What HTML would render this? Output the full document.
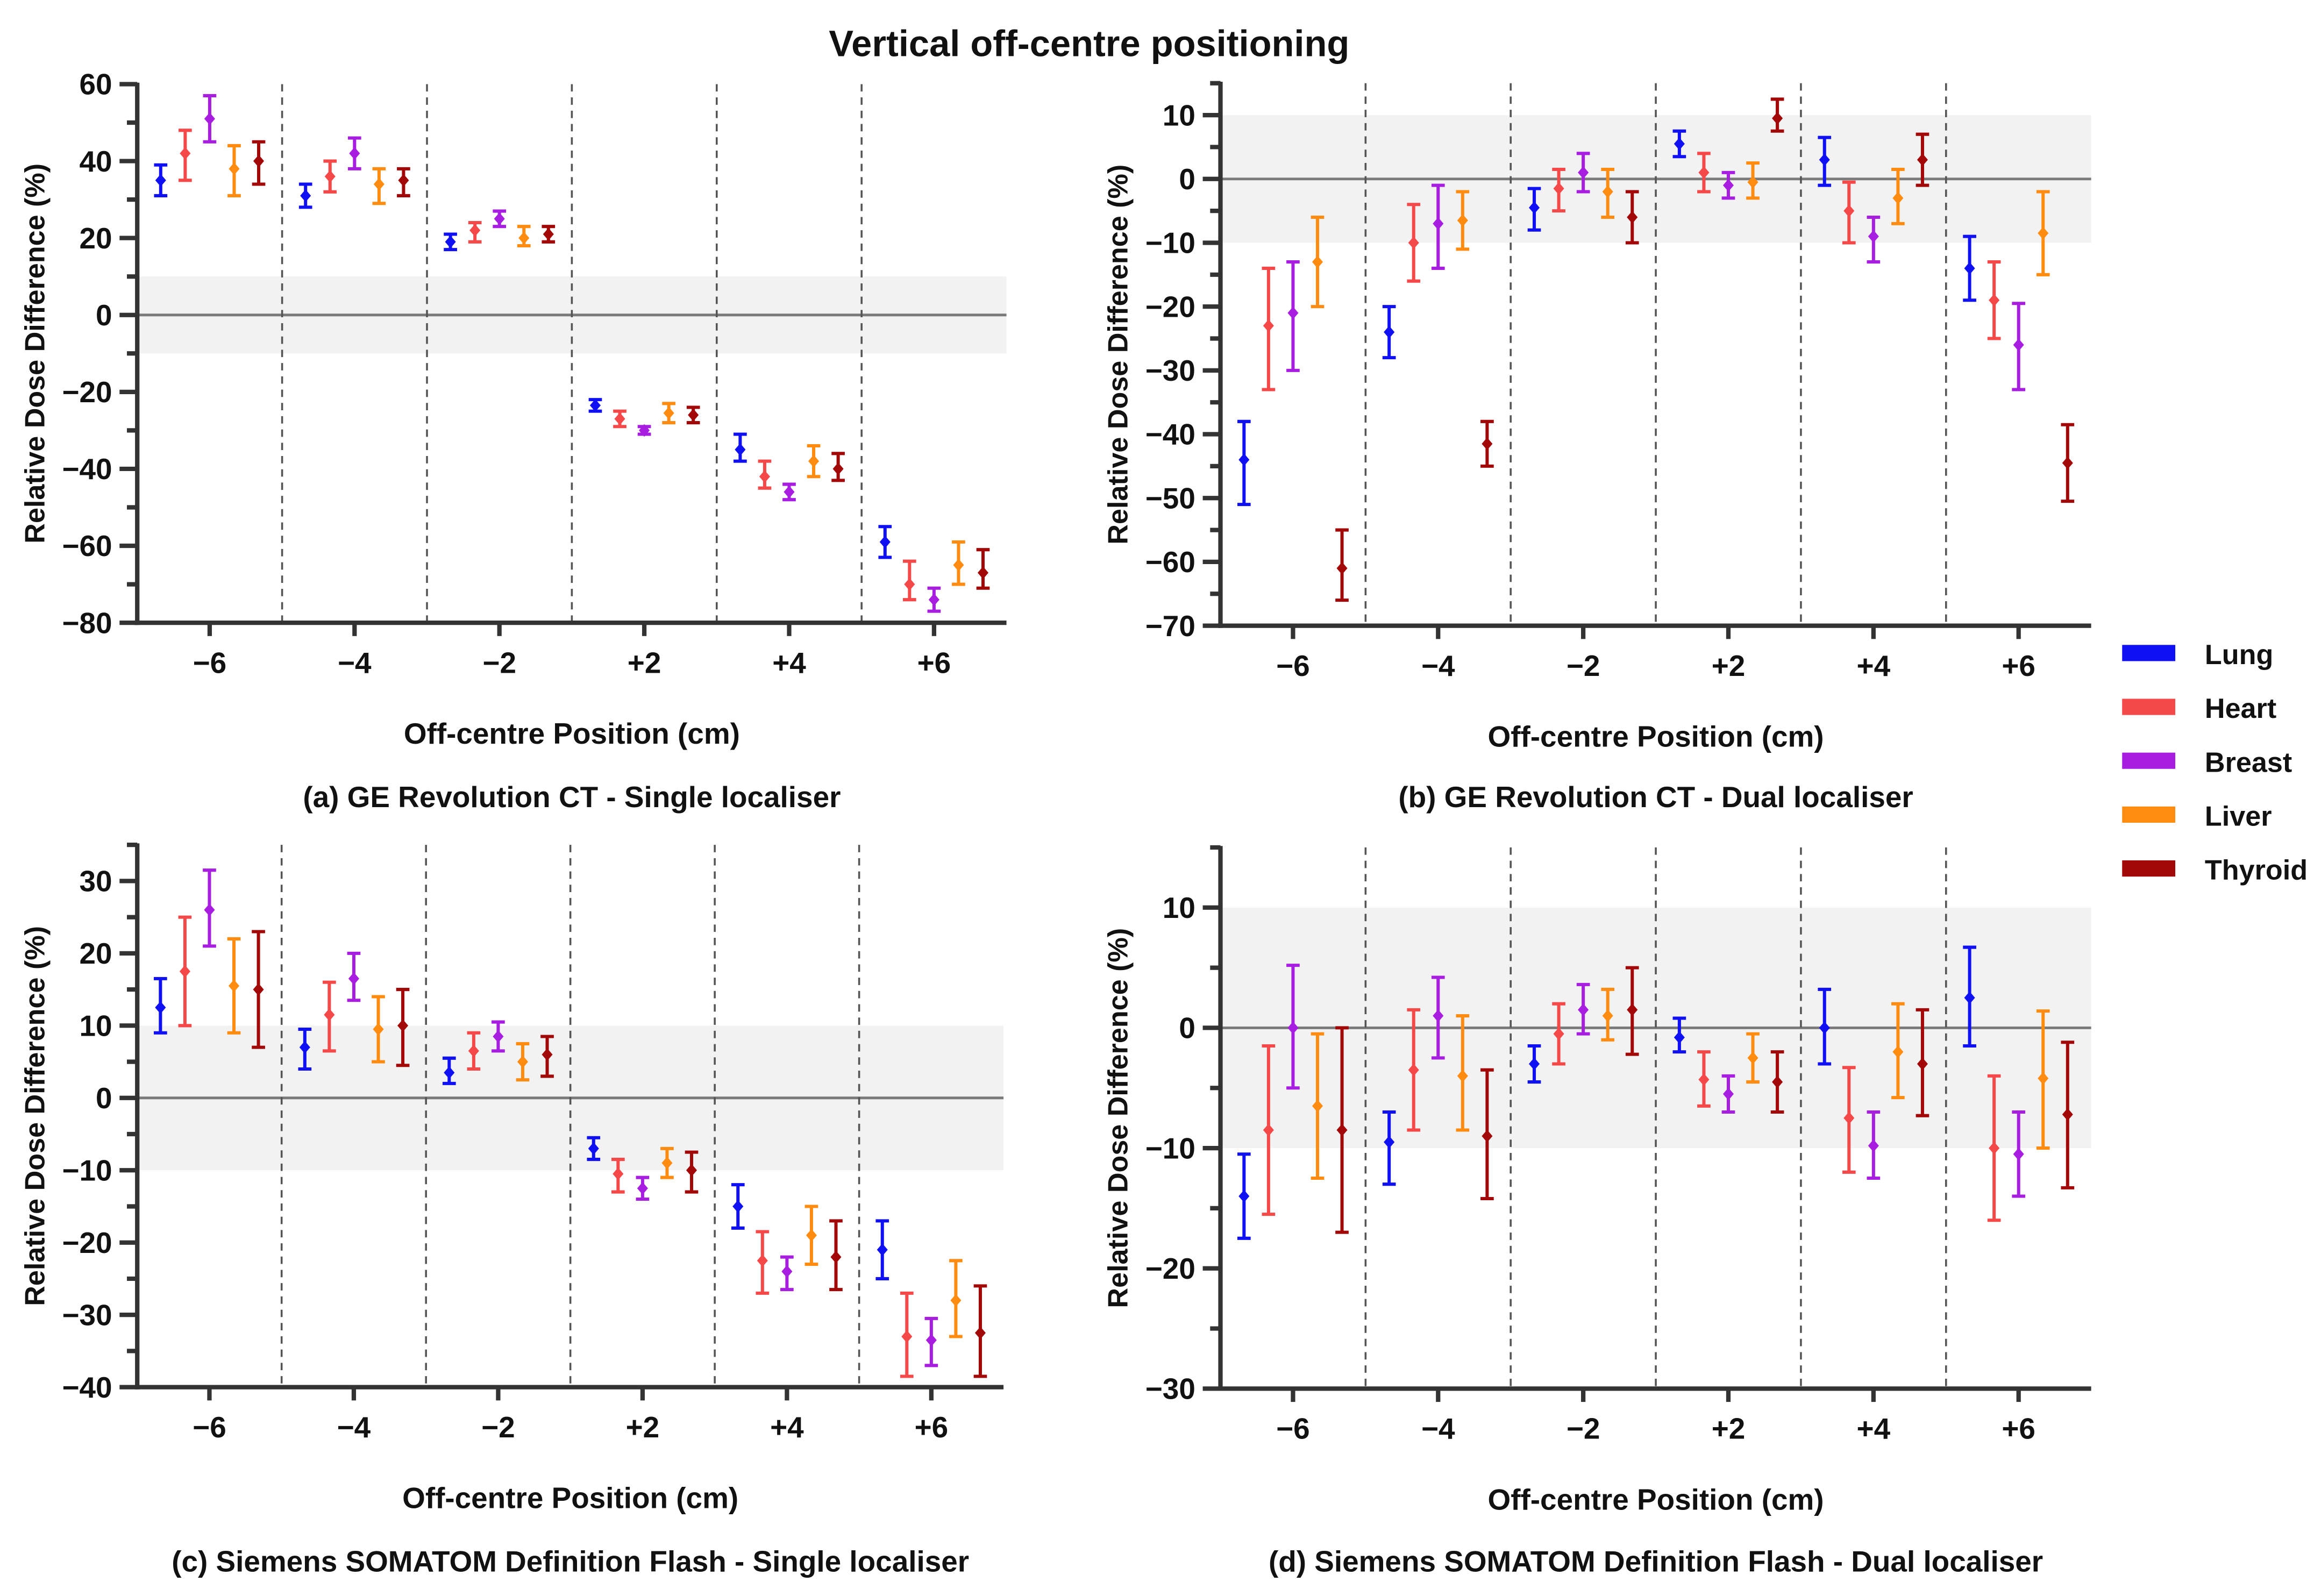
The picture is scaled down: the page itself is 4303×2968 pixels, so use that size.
<!DOCTYPE html>
<html><head><meta charset="utf-8"><style>
html,body{margin:0;padding:0;background:#fff;}
svg{display:block;font-family:"Liberation Sans",Arial,sans-serif;font-weight:bold;}
</style></head><body>
<svg id="fig" width="4303" height="2968" viewBox="0 0 1568 1081.5" xmlns="http://www.w3.org/2000/svg">
<text x="738" y="38" text-anchor="middle" font-size="25" fill="#111">Vertical off-centre positioning</text>
</svg>
<script>
const organs=["Lung","Heart","Breast","Liver","Thyroid"];
const colors=["#1010f5","#f54848","#a81ee0","#ff8c10","#a30808"];
const groups=["−6","−4","−2","+2","+4","+6"];
// panel a: [mean, low, high] per group per organ
const aMean=[[35,42,51,38,40],[31,36,42,34,35],[19,22,25,20,21],[-23.5,-27,-30,-25.5,-26],[-35,-42,-46,-38,-40],[-59,-70,-74,-65,-67]];
const aLow=[[31,35,45,31,34],[28,32,38,29,31],[17,19,23,18,19],[-25,-29,-31,-28,-28],[-38,-45,-48,-42,-43],[-63,-74,-77,-70,-71]];
const aHigh=[[39,48,57,44,45],[34,40,46,38,38],[21,24,27,23,23],[-22,-25,-29,-23,-24],[-31,-38,-44,-34,-36],[-55,-64,-71,-59,-61]];
const bMean=[[-44,-23,-21,-13,-61],[-24,-10,-7,-6.5,-41.5],[-4.5,-1.5,1,-2,-6],[5.5,1,-1,-0.5,9.5],[3,-5,-9,-3,3],[-14,-19,-26,-8.5,-44.5]];
const bLow=[[-51,-33,-30,-20,-66],[-28,-16,-14,-11,-45],[-8,-5,-2,-6,-10],[3.5,-2,-3,-3,7.5],[-1,-10,-13,-7,-1],[-19,-25,-33,-15,-50.5]];
const bHigh=[[-38,-14,-13,-6,-55],[-20,-4,-1,-2,-38],[-1.5,1.5,4,1.5,-2],[7.5,4,1,2.5,12.5],[6.5,-0.5,-6,1.5,7],[-9,-13,-19.5,-2,-38.5]];
const cMean=[[12.5,17.5,26,15.5,15],[7,11.5,16.5,9.5,10],[3.5,6.5,8.5,5,6],[-7,-10.5,-12.5,-9,-10],[-15,-22.5,-24,-19,-22],[-21,-33,-33.5,-28,-32.5]];
const cLow=[[9,10,21,9,7],[4,6.5,13.5,5,4.5],[2,4,6.5,2.5,3],[-8.5,-13,-14,-11,-13],[-18,-27,-26.5,-23,-26.5],[-25,-38.5,-37,-33,-38.5]];
const cHigh=[[16.5,25,31.5,22,23],[9.5,16,20,14,15],[5.5,9,10.5,7.5,8.5],[-5.5,-8.5,-11,-7,-7.5],[-12,-18.5,-22,-15,-17],[-17,-27,-30.5,-22.5,-26]];
const dMean=[[-14,-8.5,0,-6.5,-8.5],[-9.5,-3.5,1,-4,-9],[-3,-0.5,1.5,1,1.5],[-0.8,-4.3,-5.5,-2.5,-4.5],[0,-7.5,-9.8,-2,-3],[2.5,-10,-10.5,-4.2,-7.2]];
const dLow=[[-17.5,-15.5,-5,-12.5,-17],[-13,-8.5,-2.5,-8.5,-14.2],[-4.5,-3,-0.5,-1,-2.2],[-2,-6.5,-7,-4.5,-7],[-3,-12,-12.5,-5.8,-7.3],[-1.5,-16,-14,-10,-13.3]];
const dHigh=[[-10.5,-1.5,5.2,-0.5,0],[-7,1.5,4.2,1,-3.5],[-1.5,2,3.6,3.2,5],[0.8,-2,-4,-0.5,-2],[3.2,-3.3,-7,2,1.5],[6.7,-4,-7,1.4,-1.2]];
const aTicks=[60,40,20,0,-20,-40,-60,-80];
const bTicks=[10,0,-10,-20,-30,-40,-50,-60,-70];
const cTicks=[30,20,10,0,-10,-20,-30,-40];
const dTicks=[10,0,-10,-20,-30];

const NS="http://www.w3.org/2000/svg";
const svg=document.getElementById('fig');
function mk(tag,attrs,parent){const e=document.createElementNS(NS,tag);for(const k in attrs)e.setAttribute(k,attrs[k]);(parent||svg).appendChild(e);return e;}

function panel(cfg){
  const g=mk('g',{});
  
  
  const x0=cfg.x0,x1=cfg.x1,yTop=cfg.yTop;
  const y=v=>cfg.yA+(cfg.vA-v)*(cfg.yB-cfg.yA)/(cfg.vA-cfg.vB);
  const yBot=y(cfg.min), yT=y(cfg.max);
  const gw=(x1-x0)/6;
  const cx=(gi,oi)=>x0+gw*(gi+0.5)+(oi-2)*16.6;
  const band=mk('rect',{x:x0,y:y(10),width:x1-x0,height:y(-10)-y(10),fill:"#f2f2f2"},g);
  
  
  const zl=mk('line',{x1:x0,x2:x1,y1:y(0),y2:y(0),stroke:"#7a7a7a","stroke-width":1.8},g);
  
  
  for(let i=1;i<6;i++){
    const dl=mk('line',{x1:x0+gw*i,x2:x0+gw*i,y1:yT,y2:yBot,stroke:"#555","stroke-width":1.3,"stroke-dasharray":"5,4"},g);
    
    
  }
  // y axis
  const ya=mk('line',{x1:x0,x2:x0,y1:yT-1,y2:yBot+1.5,stroke:"#333","stroke-width":3},g);
  
  
  for(let v=cfg.min;v<=cfg.max+0.001;v+=cfg.minor){
    const major=cfg.ticks.indexOf(v)>=0;
    const t=mk('line',{x1:x0-(major?12:7),x2:x0,y1:y(v),y2:y(v),stroke:"#333","stroke-width":3},g);
    
    
  }
  cfg.ticks.forEach(v=>{
    const t=mk('text',{x:x0-17,y:y(v)+7,"text-anchor":"end","font-size":20,fill:"#111"},g);
    t.textContent=v<0?"−"+(-v):""+v;
    
    
  });
  const yt=mk('text',{x:0,y:0,"text-anchor":"middle","font-size":19,fill:"#111",transform:`translate(${x0-63},${(yT+yBot)/2}) rotate(-90)`},g);
  yt.textContent="Relative Dose Difference (%)";
  
  
  // x axis
  const xa=mk('line',{x1:x0-1.5,x2:x1,y1:yBot,y2:yBot,stroke:"#333","stroke-width":3},g);
  
  
  groups.forEach((lab,gi)=>{
    const xc=x0+gw*(gi+0.5);
    const t=mk('line',{x1:xc,x2:xc,y1:yBot,y2:yBot+9,stroke:"#333","stroke-width":3},g);
    
    
    const tl=mk('text',{x:xc,y:yBot+34,"text-anchor":"middle","font-size":20,fill:"#111"},g);
    tl.textContent=lab;
    
    
  });
  const xt=mk('text',{x:(x0+x1)/2,y:yBot+82,"text-anchor":"middle","font-size":20,fill:"#111"},g);
  xt.textContent="Off-centre Position (cm)";
  
  
  const cap=mk('text',{x:(x0+x1)/2,y:cfg.capY,"text-anchor":"middle","font-size":20,fill:"#111"},g);
  cap.textContent=cfg.caption;
  
  
  // series
  for(let gi=0;gi<6;gi++)for(let oi=0;oi<5;oi++){
    const xx=cx(gi,oi),col=colors[oi];
    const eg=mk('g',{stroke:col,"stroke-width":2.2,fill:col},g);
    
    
    const lo=y(cfg.low[gi][oi]),hi=y(cfg.high[gi][oi]),m=y(cfg.mean[gi][oi]);
    mk('line',{x1:xx,x2:xx,y1:lo,y2:hi},eg);
    mk('line',{x1:xx-4.5,x2:xx+4.5,y1:lo,y2:lo},eg);
    mk('line',{x1:xx-4.5,x2:xx+4.5,y1:hi,y2:hi},eg);
    mk('path',{d:`M${xx},${m-3.5}L${xx+3},${m}L${xx},${m+3.5}L${xx-3},${m}Z`,"stroke-width":1},eg);
  }
}
panel({name:'panel-a',x0:93,x1:682,yA:57,vA:60,yB:422,vB:-80,min:-80,max:60,minor:10,ticks:aTicks,mean:aMean,low:aLow,high:aHigh,capY:547,caption:"(a) GE Revolution CT - Single localiser"});
panel({name:'panel-b',x0:827,x1:1417,yA:78,vA:10,yB:424,vB:-70,min:-70,max:15,minor:5,ticks:bTicks,mean:bMean,low:bLow,high:bHigh,capY:547,caption:"(b) GE Revolution CT - Dual localiser"});
panel({name:'panel-c',x0:93,x1:680,yA:597,vA:30,yB:940,vB:-40,min:-40,max:35,minor:5,ticks:cTicks,mean:cMean,low:cLow,high:cHigh,capY:1065,caption:"(c) Siemens SOMATOM Definition Flash - Single localiser"});
panel({name:'panel-d',x0:827,x1:1417,yA:615,vA:10,yB:941,vB:-30,min:-30,max:15,minor:5,ticks:dTicks,mean:dMean,low:dLow,high:dHigh,capY:1065,caption:"(d) Siemens SOMATOM Definition Flash - Dual localiser"});
// legend
const lg=mk('g',{});


organs.forEach((o,i)=>{
  const yy=443+i*36.5;
  const e=mk('g',{},lg);
  
  
  mk('rect',{x:1438,y:yy-6,width:36,height:11,fill:colors[i]},e);
  const t=mk('text',{x:1494,y:yy+7,"font-size":19,fill:"#111"},e);
  t.textContent=o;
});
</script>
</body></html>
